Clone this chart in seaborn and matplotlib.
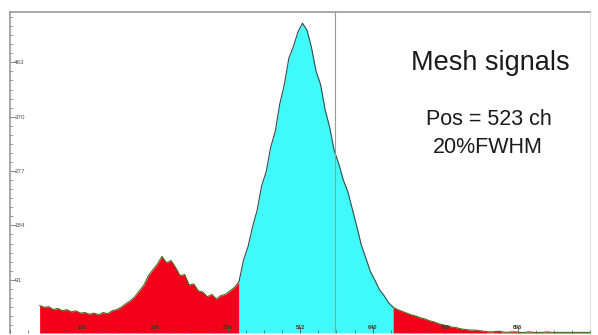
import matplotlib
matplotlib.use("Agg")
import matplotlib.pyplot as plt
from matplotlib.ticker import AutoMinorLocator
import seaborn as sns
import numpy as np
import pandas as pd

first_channel = 52
channel_step = 8
low_counts = [47, 44, 45, 40, 42, 38, 40, 36, 38, 34, 35, 32, 34, 31, 35, 33,
              38, 40, 44, 50, 55, 62, 72, 82, 98, 108, 118, 131, 120, 124, 112, 98,
              100, 82, 84, 72, 70, 62, 66, 58, 64, 66, 72, 78, 88]
peak_counts = [125, 148, 182, 210, 252, 276, 318, 345, 392, 425, 470, 490, 515, 530,
               518, 488, 448, 425, 382, 352, 312, 290, 262, 242, 212, 182, 150, 128,
               105, 90, 74, 64, 52, 44]
high_counts = [40, 37, 34, 31, 29, 26, 24, 21, 19, 16, 14, 12, 10, 9, 7, 6,
               5, 5, 4, 3, 2, 2, 3, 2, 1, 2, 2, 1, 1, 2, 1, 1,
               1, 2, 1, 1, 1, 1, 1, 1, 1, 1, 1, 1]
peak_window = (404, 676)   # channels of the highlighted region

y_ticks = [91, 184, 277, 370, 463]
x_ticks = [128, 256, 384, 512, 640, 768, 896]
marker_channel = 574

counts = low_counts + peak_counts + high_counts
spectrum = pd.DataFrame({
    "channel": first_channel + channel_step * np.arange(len(counts)),
    "counts": counts,
})
lo, hi = peak_window
spectrum["region"] = np.where(spectrum["channel"] < lo, "low",
                              np.where(spectrum["channel"] > hi, "high", "peak"))

sns.set_style("white")
plt.rcParams["font.family"] = ["Liberation Sans", "DejaVu Sans"]

fig = plt.figure(figsize=(5.98, 3.35), dpi=100)
ax = fig.add_axes([0.017, 0.006, 0.97, 0.958])

red, cyan = "#f5001a", "#40fafa"
masks = {
    "low": spectrum["channel"] <= lo,
    "peak": (spectrum["channel"] >= lo) & (spectrum["channel"] <= hi),
    "high": spectrum["channel"] >= hi,
}
styles = {"low": (red, "#4f6b1f"), "peak": (cyan, "#3a4a4a"), "high": (red, "#4f6b1f")}
for name, mask in masks.items():
    part = spectrum[mask]
    face, edge = styles[name]
    ax.fill_between(part["channel"], part["counts"], 0, color=face, linewidth=0)
    sns.lineplot(data=part, x="channel", y="counts", color=edge, linewidth=0.8,
                 ax=ax)

ax.axvline(marker_channel, color="#9a9a9a", linewidth=0.8, zorder=3)

ax.set_xlim(0, 1024)
ax.set_ylim(0, 549)
ax.set_xticks(x_ticks)
ax.set_yticks(y_ticks)
ax.xaxis.set_minor_locator(AutoMinorLocator(4))
ax.yaxis.set_minor_locator(AutoMinorLocator(6))
ax.set_axisbelow(False)
ax.set_xlabel("")
ax.set_ylabel("")

ax.tick_params(axis="y", which="both", direction="in", left=True, pad=-3,
               labelsize=4.5, labelcolor="#555555", color="#777777")
ax.tick_params(axis="y", which="major", length=4, width=0.6)
ax.tick_params(axis="y", which="minor", length=2.5, width=0.5)
for lab in ax.get_yticklabels():
    lab.set_horizontalalignment("left")

ax.tick_params(axis="x", which="both", direction="in", bottom=True, pad=-6,
               labelsize=4, labelcolor="#3a3a1a", color="#555555")
ax.tick_params(axis="x", which="major", length=4, width=0.6)
ax.tick_params(axis="x", which="minor", length=2, width=0.5)
for lab in ax.get_xticklabels():
    lab.set_fontweight("bold")

for side in ["top", "left"]:
    ax.spines[side].set_color("#9a9a9a")
    ax.spines[side].set_linewidth(1.2)
ax.spines["right"].set_color("#e0e0e0")
ax.spines["bottom"].set_visible(False)

ax.text(0.828, 0.841, "Mesh signals", transform=ax.transAxes, ha="center",
        va="center", fontsize=19.5, color="#1a1a1a")
ax.text(0.826, 0.664, "Pos = 523 ch", transform=ax.transAxes, ha="center",
        va="center", fontsize=15.5, color="#1a1a1a")
ax.text(0.823, 0.579, "20%FWHM", transform=ax.transAxes, ha="center",
        va="center", fontsize=15.5, color="#1a1a1a")

fig.savefig("out.png", dpi=100)
